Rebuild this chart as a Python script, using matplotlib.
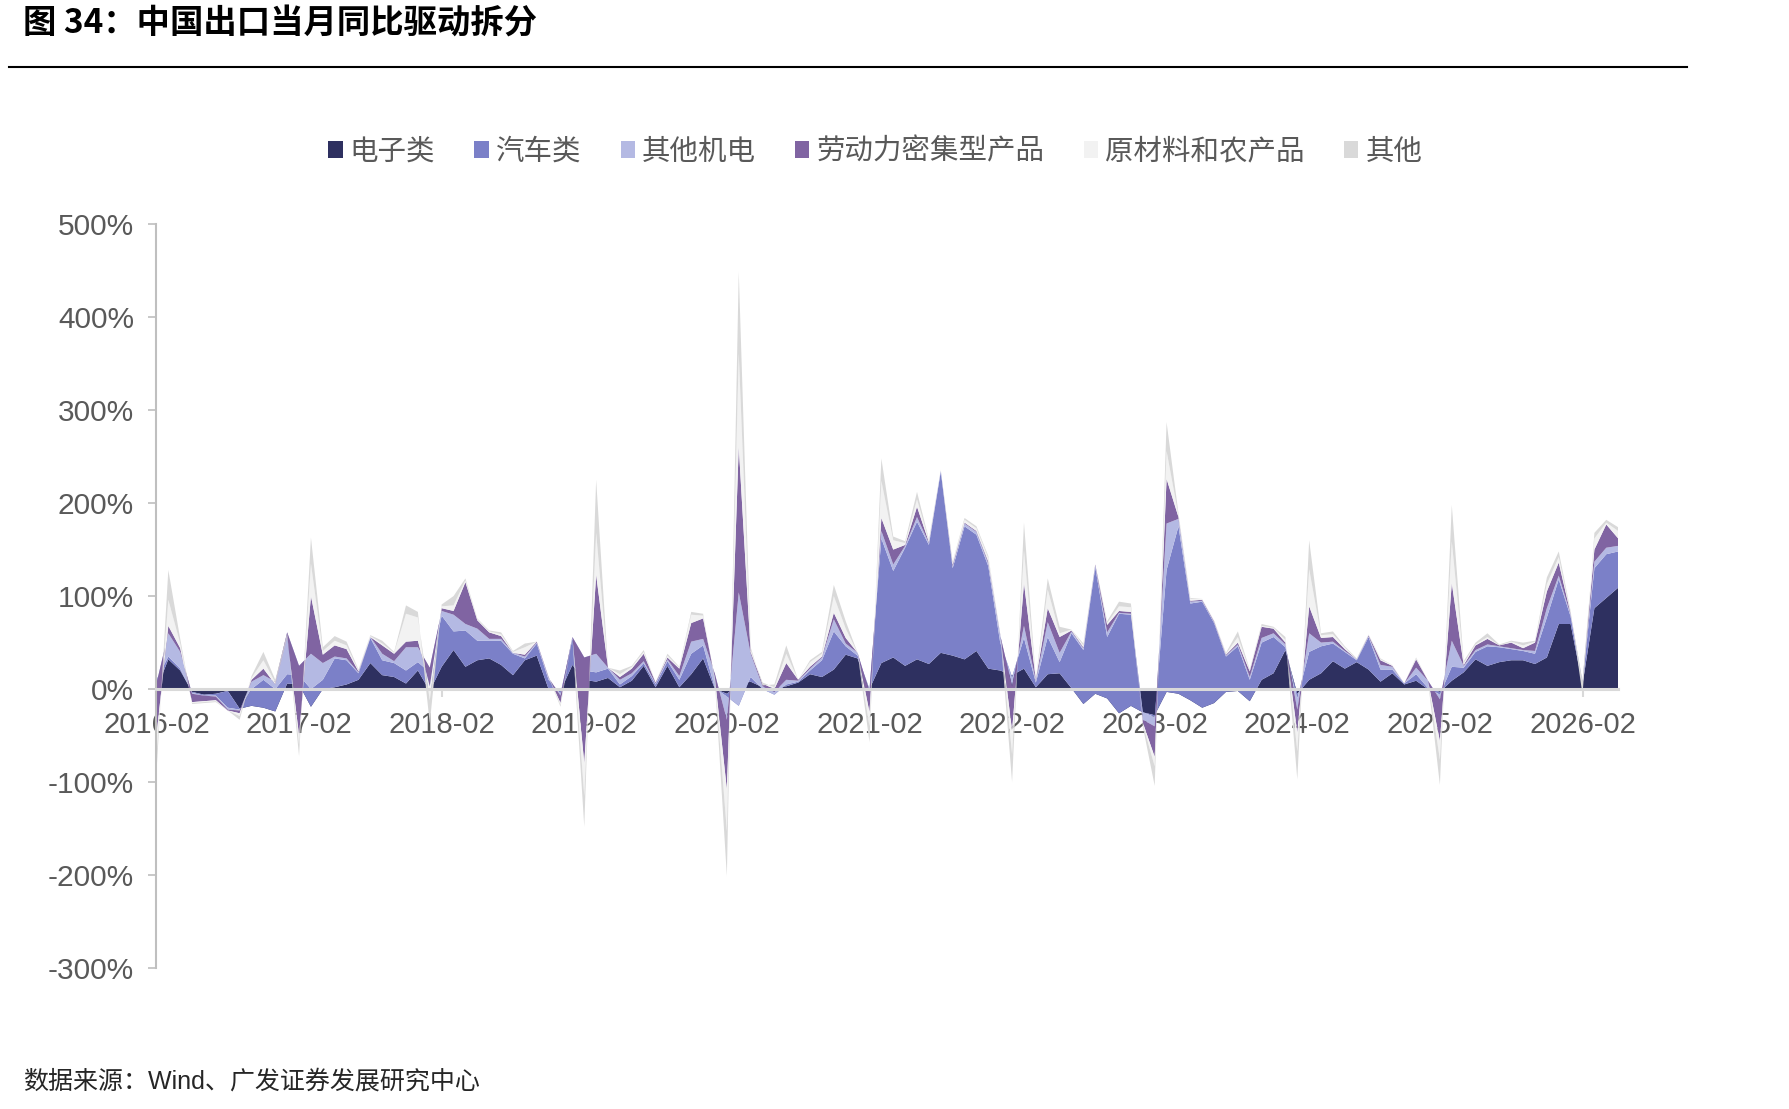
import numpy as np
import pandas as pd
import matplotlib
matplotlib.use('Agg')
import matplotlib.pyplot as plt
from matplotlib.patches import Patch
from matplotlib.lines import Line2D
from matplotlib.ticker import FuncFormatter, MultipleLocator

plt.rcParams['font.family'] = ['Liberation Sans', 'Noto Sans CJK SC']

# monthly, 2016-02 .. 2026-05
months = pd.period_range('2016-02', periods=124, freq='M').strftime('%Y-%m')

# contribution of each group to export yoy (%), one row per year starting Feb
dianzi = [0, 32, 20, -3, -6, -5, -2, -21, -18, -20, -24, 6,
          5, -19, 0, 2, 5, 10, 28, 15, 13, 6, 20, -2,
          24, 42, 24, 31, 33, 26, 15, 31, 36, 0, -2, 26,
          10, 8, 12, 2, 9, 25, 2, 25, 2, 16, 33, 0,
          -5, 5, 8, 2, 2, 3, 7, 16, 13, 21, 37, 33,
          0, 28, 34, 25, 32, 27, 39, 36, 32, 41, 22, 20,
          15, 22, 2, 16, 17, 1, -16, -5, -10, -26, -18, -25,
          -28, -3, -5, -12, -20, -15, -3, -2, -13, 10, 17, 42,
          -5, 10, 17, 30, 22, 29, 21, 8, 17, 5, 9, 0,
          -3, 9, 18, 32, 25, 29, 31, 31, 27, 34, 70, 70,
          5, 87, 98, 109]

qiche = [10, 3, 2, -1, -1, -2, -18, -1, 18, 30, 24, 10,
         10, 19, 10, 31, 26, 7, 27, 16, 15, 14, 9, 20,
         55, 20, 39, 21, 19, 26, 23, 2, 13, 10, -3, 28,
         10, 10, 10, 3, 5, 3, 3, 5, 8, 22, 14, 1,
         -3, -23, 5, -2, -8, 2, 1, 4, 18, 41, 9, 3,
         0, 134, 93, 127, 148, 128, 195, 94, 143, 125, 110, 30,
         -2, 33, 5, 40, 12, 59, 58, 136, 66, 107, 98, 0,
         -2, 131, 180, 104, 114, 86, 38, 48, 23, 40, 39, 3,
         -5, 30, 29, 19, 18, 2, 35, 13, 4, 1, 7, 1,
         -3, 15, 5, 8, 21, 16, 12, 10, 11, 43, 48, 8,
         2, 43, 47, 39]

jidian = [-4, 25, 18, -1, 0, -1, -2, -1, 8, 5, 8, 45,
          10, 38, 18, 2, 2, 1, 1, 7, 2, 25, 16, 5,
          5, 18, 7, 13, 2, 2, 1, 2, 1, 2, -2, 2,
          14, 20, 1, 5, 3, 2, 1, 2, 4, 13, 7, 15,
          -25, 122, 25, 3, 3, 5, 1, 2, 3, 13, 3, 3,
          -3, 8, 7, 2, 5, 2, 1, 2, 3, 3, 3, 8,
          -10, 13, 2, 16, 10, 2, 2, 2, 5, 1, 1, -8,
          -10, 50, 8, 2, 1, 1, 1, 2, 3, 5, 4, 3,
          -12, 20, 4, 2, 1, 1, 1, 5, 3, 0, 7, 8,
          -5, 28, 2, 2, 2, 1, 1, 1, 3, 10, 4, 2,
          1, 7, 7, 6]

laodong = [-56, 8, 4, -9, -6, -4, -1, -3, 2, 7, -3, -5,
           -75, 62, 9, 12, 10, 1, 0, 9, 8, 6, 7, -20,
           3, 4, 45, 9, 7, 3, 0, 2, 1, 1, -8, 0,
           -114, 85, 0, 3, 5, 8, 1, 2, 8, 20, 22, -5,
           -75, 157, 2, 3, 3, 18, 1, 2, 1, 7, 6, 0,
           -22, 14, 16, 1, 11, 1, 0, 2, 1, 1, 2, 1,
           -48, 46, 1, 15, 17, 1, 1, 1, 8, 2, 2, -3,
           -33, 48, 2, 1, 1, 1, 1, 2, 6, 12, 5, 2,
           -25, 29, 5, 5, 2, 0, 1, 5, 1, 0, 9, 0,
           -45, 62, 1, 5, 6, 1, 6, 2, 9, 18, 14, 1,
           0, 13, 25, 8]

yuancailiao = [-22, 28, 5, -1, -1, -1, 0, -3, 2, 9, 2, 2,
               -10, 35, 4, 5, 4, 1, 1, 2, 1, 30, 25, -15,
               2, 6, 2, 1, 1, 2, 1, 8, 0, 0, -2, 0,
               -35, 45, 0, 3, 2, 2, 0, 2, 1, 9, 3, -2,
               -45, 100, 2, 1, 2, 10, 0, 5, 3, 18, 10, 0,
               -15, 40, 10, 2, 8, 2, 1, 2, 3, 3, 4, 1,
               -25, 35, 1, 20, 4, 1, 2, 0, 2, 5, 5, -2,
               -10, 30, 2, 2, 1, 1, 1, 6, 1, 1, 1, 3,
               -20, 40, 3, 3, 2, 0, 1, 1, 1, 0, 1, 0,
               -20, 45, 2, 1, 2, 0, 1, 3, 1, 8, 6, 1,
               0, 12, 2, 8]

qita = [-18, 32, 5, -1, -1, -1, 0, -4, 2, 9, 3, 2,
        -12, 28, 4, 5, 4, 1, 1, 3, 1, 9, 6, -25,
        2, 10, 2, 1, 1, 2, 1, 4, 0, 0, -2, 0,
        -33, 57, 0, 4, 1, 2, 0, 2, 1, 3, 2, -2,
        -48, 88, 3, -3, 3, 9, 0, 2, 2, 12, 8, 0,
        -17, 24, 4, 2, 8, 1, 0, 1, 2, 2, 2, 0,
        -30, 30, 0, 12, 7, 0, 2, 0, 2, 5, 4, -2,
        -21, 31, 2, 1, 0, 0, 1, 6, 1, 2, 1, 3,
        -30, 31, 2, 3, 1, 1, 0, 1, 0, 0, 1, 0,
        -27, 39, 2, 2, 4, 1, 1, 3, 1, 7, 6, 2,
        -14, 6, 3, 4]

names = ['电子类', '汽车类', '其他机电', '劳动力密集型产品', '原材料和农产品', '其他']
colors = ['#2e3060', '#7b80c8', '#b4b9e3', '#8064a2', '#f2f2f2', '#d9d9d9']

fig = plt.figure(figsize=(17.9, 11.09), dpi=100)
ax = fig.add_axes([0.0874, 0.127, 0.8166, 0.671])

x = np.arange(len(months))
ax.stackplot(x, dianzi, qiche, jidian, laodong, yuancailiao, qita,
             colors=colors, linewidth=0, zorder=2)

ax.set_xlim(0, len(months) - 1)
ax.set_ylim(-300, 500)
ax.yaxis.set_major_locator(MultipleLocator(100))
ax.yaxis.set_major_formatter(FuncFormatter(lambda v, p: f'{v:.0f}%'))
ax.set_xticks(x[::12])
ax.set_xticklabels(months[::12])

for s in ['top', 'right']:
    ax.spines[s].set_visible(False)
ax.spines['bottom'].set_position(('data', 0))
ax.spines['bottom'].set_color('#d9d9d9')
ax.spines['bottom'].set_linewidth(2.2)
ax.spines['left'].set_color('#bfbfbf')
ax.spines['left'].set_linewidth(1.5)
ax.tick_params(axis='y', colors='#bfbfbf', labelcolor='#595959',
               labelsize=21.5, length=6, width=1.2, pad=10)
ax.tick_params(axis='x', colors='#d9d9d9', labelcolor='#595959',
               labelsize=21, length=6, width=1.5, pad=10)

handles = [Patch(facecolor=c, label=n) for c, n in zip(colors, names)]
fig.legend(handles=handles, loc='center', bbox_to_anchor=(0.489, 0.863),
           ncol=6, frameon=False, fontsize=20.5, handlelength=0.5,
           handleheight=0.5, handletextpad=0.25, columnspacing=1.38,
           labelcolor='#595959')

fig.text(23 / 1790, 1 - 23 / 1109, '图 34：中国出口当月同比驱动拆分',
         fontsize=24, fontweight='bold', family='Noto Sans CJK SC',
         va='center', ha='left')
fig.add_artist(Line2D([0.005, 0.9425], [0.9395, 0.9395], color='black', lw=1.5))
fig.text(23 / 1790, 1 - 1082 / 1109, '数据来源：Wind、广发证券发展研究中心',
         fontsize=18, color='#262626', va='center', ha='left')

fig.savefig('out.png', dpi=100)
